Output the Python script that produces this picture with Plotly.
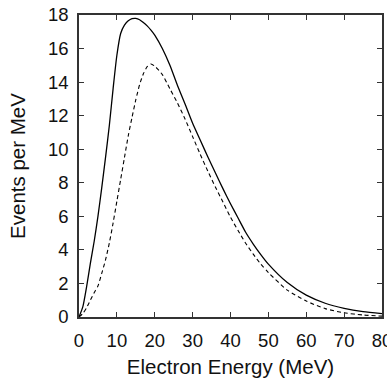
import plotly.graph_objects as go

# Electron energy (MeV)
energy = [0, 1, 2, 3, 4, 5, 6, 7, 8, 9, 10, 11, 12, 13, 14, 15, 16, 17, 18, 19, 20,
          22, 24, 26, 28, 30, 32, 34, 36, 38, 40, 42, 44, 46, 48, 50, 55, 60, 65, 70, 75, 80]

# Solid curve (events per MeV)
solid = [0, 0.6, 1.8, 3.2, 4.5, 6.0, 7.7, 9.5, 11.4, 13.6, 15.6, 16.9, 17.4, 17.65, 17.78,
         17.8, 17.72, 17.55, 17.35, 17.1, 16.8,
         16.0, 15.0, 13.8, 12.7, 11.55, 10.55, 9.55, 8.6, 7.65, 6.75, 5.9, 5.05, 4.35, 3.72,
         3.15, 2.05, 1.3, 0.82, 0.52, 0.32, 0.2]

# Dashed curve (events per MeV)
dashed = [0, 0.2, 0.55, 1.0, 1.45, 1.85, 2.6, 3.4, 4.4, 5.6, 6.9, 8.2, 9.5, 10.8, 11.9,
          12.95, 13.85, 14.5, 14.92, 15.08, 14.95,
          14.45, 13.6, 12.75, 11.8, 10.75, 9.7, 8.7, 7.75, 6.85, 5.95, 5.15, 4.4, 3.75, 3.15,
          2.65, 1.6, 0.95, 0.5, 0.25, 0.12, 0.05]

x_ticks = [0, 10, 20, 30, 40, 50, 60, 70, 80]
y_ticks = [0, 2, 4, 6, 8, 10, 12, 14, 16, 18]

FONT = "Liberation Sans, Arial, sans-serif"

fig = go.Figure()
fig.add_trace(go.Scatter(x=energy, y=solid, mode="lines",
                         line=dict(color="black", width=1.3, shape="spline", smoothing=0.6),
                         showlegend=False))
fig.add_trace(go.Scatter(x=energy, y=dashed, mode="lines",
                         line=dict(color="black", width=1.1, dash="4px,3px", shape="spline", smoothing=0.6),
                         showlegend=False))

axis_common = dict(showgrid=False, zeroline=False, showline=True, linecolor="#333",
                   linewidth=1.5, mirror="ticks", ticks="inside", ticklen=5,
                   tickwidth=1, tickcolor="#333", ticklabeloverflow="allow",
                   tickfont=dict(family=FONT, size=18.5, color="#111"))

fig.update_xaxes(range=[0, 80], tickvals=x_ticks, ticklabelstandoff=6, **axis_common,
                 title=dict(text="Electron Energy (MeV)", standoff=10,
                            font=dict(family=FONT, size=20.5, color="#111")))
fig.update_yaxes(range=[0, 18], tickvals=y_ticks, ticklabelstandoff=5, **axis_common,
                 title=dict(text="Events per MeV", standoff=17,
                            font=dict(family=FONT, size=20.5, color="#111")))

fig.update_layout(width=387, height=380, margin=dict(l=79, r=5, t=15, b=63, autoexpand=False),
                  plot_bgcolor="white", paper_bgcolor="white")

fig.write_html("out.html", config={"displayModeBar": False},
               post_script="document.body.style.margin='0';")
